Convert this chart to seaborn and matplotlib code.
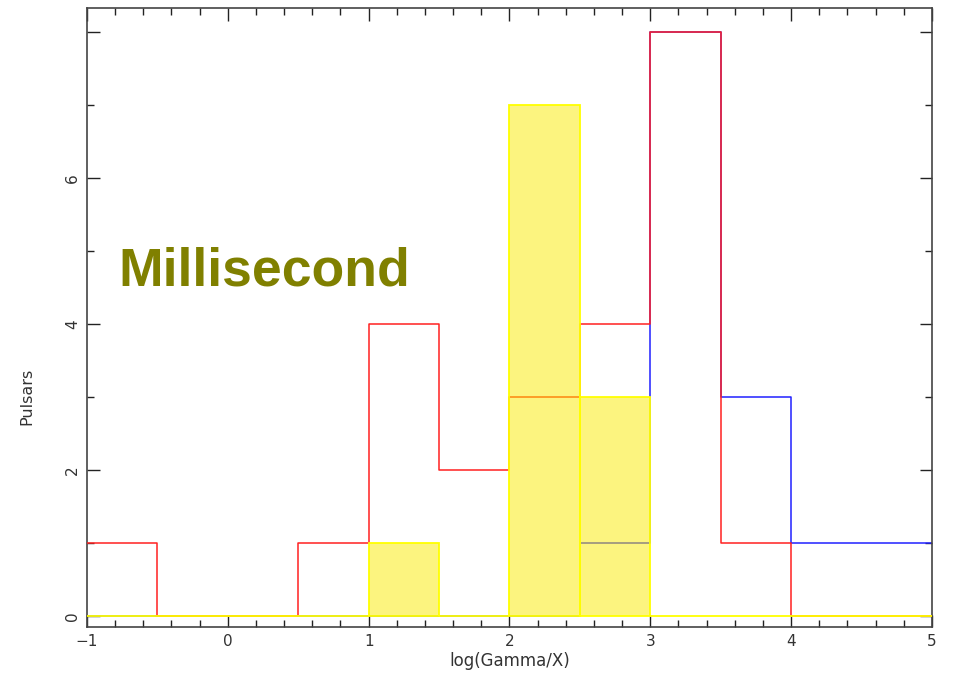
import numpy as np
import pandas as pd
import matplotlib
matplotlib.use("Agg")
import matplotlib.pyplot as plt
from matplotlib.ticker import MultipleLocator, FixedLocator
import seaborn as sns

# ---- data ----
bin_edges = [-1.0, -0.5, 0.0, 0.5, 1.0, 1.5, 2.0, 2.5, 3.0, 3.5, 4.0, 4.5, 5.0]
red_counts = [1, 0, 0, 1, 4, 2, 3, 4, 8, 1, 0, 0]
blue_counts = [0, 0, 0, 0, 0, 0, 0, 1, 8, 3, 1, 1]
yellow_counts = [0, 0, 0, 0, 1, 0, 7, 3, 0, 0, 0, 0]
y_tick_values = [0, 2, 4, 6, 8]
y_tick_labels = ["0", "2", "4", "6", ""]
x_tick_values = [-1, 0, 1, 2, 3, 4, 5]
x_tick_labels = ["\u22121", "0", "1", "2", "3", "4", "5"]
annotation = "Millisecond"
x_label = "log(Gamma/X)"
y_label = "Pulsars"

centers = [(a + b) / 2 for a, b in zip(bin_edges[:-1], bin_edges[1:])]
df = pd.DataFrame({"x": centers, "red": red_counts, "blue": blue_counts,
                   "yellow": yellow_counts})

sns.set_theme(style="white")
plt.rcParams["font.family"] = ["DejaVu Sans"]

fig = plt.figure(figsize=(9.54, 6.73), dpi=100)
ax = fig.add_axes([87 / 954, 1 - 627 / 673, (932 - 87) / 954, (627 - 8) / 673])

sns.histplot(data=df, x="x", weights="blue", bins=bin_edges, element="step",
             fill=False, color="#2020ff", linewidth=1.1, ax=ax, zorder=2)
sns.histplot(data=df, x="x", weights="red", bins=bin_edges, element="step",
             fill=False, color="#ff2020", linewidth=1.1, ax=ax, zorder=3)
sns.histplot(data=df, x="x", weights="yellow", bins=bin_edges, element="bars",
             fill=True, color="#fbeb00", alpha=0.5, edgecolor="#ffff00",
             linewidth=1.3, ax=ax, zorder=4)

ax.set_xlim(-1, 5)
ax.set_ylim(-0.15, 8.33)

ax.xaxis.set_major_locator(FixedLocator(x_tick_values))
ax.set_xticklabels(x_tick_labels)
ax.xaxis.set_minor_locator(MultipleLocator(0.2))
ax.yaxis.set_major_locator(FixedLocator(y_tick_values))
ax.set_yticklabels(y_tick_labels, rotation=90, va="center")
ax.yaxis.set_minor_locator(MultipleLocator(1))

ax.tick_params(which="both", direction="in", top=True, right=True,
               bottom=True, left=True, colors="#222222", labelcolor="#333333",
               labelsize=11)
ax.tick_params(which="major", length=9, width=1.0, pad=5)
ax.tick_params(which="minor", length=5, width=1.0)

for s in ax.spines.values():
    s.set_color("#444444")
    s.set_linewidth(1.2)

ax.set_xlabel(x_label, fontsize=12, color="#333333")
ax.set_ylabel(y_label, fontsize=11.5, color="#333333")
ax.xaxis.set_label_coords(0.5, -0.055)
ax.yaxis.set_label_coords(-0.071, 0.372)
ax.xaxis.label.set_va("center")
ax.yaxis.label.set_va("center")

ax.text(-0.78, 4.53, annotation, fontsize=38.5, fontweight="bold",
        family=["Liberation Sans", "DejaVu Sans"], color="#808000",
        ha="left", va="baseline", zorder=6)

fig.savefig("out.png", dpi=100)
